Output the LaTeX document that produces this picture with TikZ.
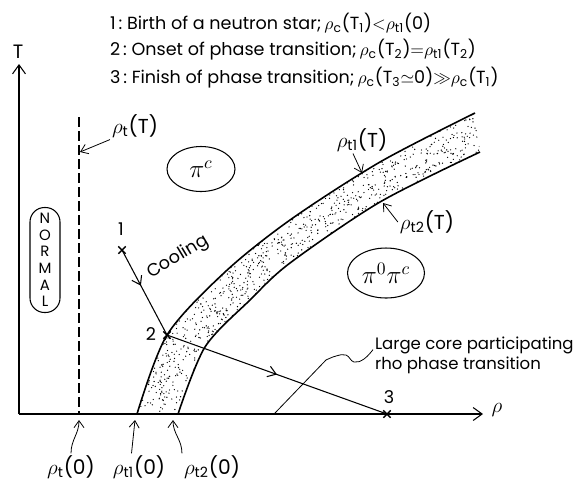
\documentclass[tikz,border=0pt]{standalone}
\usepackage{fontspec}
\setmainfont{Poppins}
\usetikzlibrary{positioning,arrows.meta,calc,shapes.geometric,shapes.misc,decorations.markings}
\newcommand{\rhs}[1]{\ensuremath{\rho_{\mathrm{#1}}}}
\tikzset{
  phLine/.style={line width=0.6pt, draw=black},
  phAxis/.style={-{Straight Barb[length=1.8mm,width=2.6mm]}, line width=0.6pt},
  phArr/.style={-{Straight Barb[length=1.4mm,width=2mm]}, line width=0.45pt},
  phBand/.style={line width=0.9pt},
  phOval/.style={ellipse, draw, line width=0.6pt, inner sep=0pt},
  phCross/.style={cross out, draw, line width=0.8pt, minimum size=1.2mm, inner sep=0pt},
  midArrow/.style={postaction={decorate}, decoration={markings,
    mark=at position #1 with {\arrow{Straight Barb[length=1.6mm,width=2.2mm]}}}},
  lbl/.style={font=\fontsize{10}{12}\selectfont, inner sep=1pt},
  rlbl/.style={font=\fontsize{11.5}{13}\selectfont, inner sep=1pt},
}

\begin{document}
\begin{tikzpicture}[x=0.2mm, y=-0.2mm]
  \useasboundingbox (0,0) rectangle (581,482);

  % stippled band
  \begin{scope}
    \clip plot[smooth] coordinates {(137,414) (167,335) (225,272) (290,220) (380,162) (475,113)}
      -- plot[smooth] coordinates {(480,152) (380,202) (290,263) (250,300) (205,347) (178,414)} -- cycle;
    \pgfmathsetseed{11}
    \foreach \k in {1,...,5200}{\fill ({130+355*rnd},{108+310*rnd}) circle (0.38pt);}
  \end{scope}
  \draw[phBand] plot[smooth] coordinates {(137,414) (167,335) (225,272) (290,220) (380,162) (475,113)};
  \draw[phBand] plot[smooth] coordinates {(178,414) (205,347) (250,300) (290,263) (380,202) (480,152)};

  % axes
  \coordinate (orig) at (19,414);
  \coordinate (tTop) at (19,64);
  \coordinate (rEnd) at (483,414);
  \coordinate (thickA) at (122,414);
  \draw[phAxis] (orig) -- (tTop);
  \draw[phAxis] (orig) -- (rEnd);
  \node[lbl, font=\fontsize{11}{12}\selectfont] (tLbl) at (18,52) {T};
  \node[rlbl, font=\large] (rLbl) at (497,410) {$\rho$};

  % header
  \node[lbl, anchor=west] (hdrA) at (108,23) {1\,:\ Birth of a neutron star;\,\rhs{c}(T\textsubscript{1})$<$\rhs{t1}(0)};
  \node[lbl, anchor=west] (hdrB) at (108,50) {2\,:\ Onset of phase transition;\,\rhs{c}(T\textsubscript{2})$=$\rhs{t1}(T\textsubscript{2})};
  \node[lbl, anchor=west] (hdrC) at (108,78) {3\,:\ Finish of phase transition;\,\rhs{c}(T\textsubscript{3}$\simeq$0)$\gg$\rhs{c}(T\textsubscript{1})};

  % normal phase boundary
  \coordinate (dTop) at (79,117);
  \coordinate (dBot) at (79,414);
  \draw[line width=0.7pt, dash pattern=on 2mm off 0.8mm] (dTop) -- (dBot);
  \node[rlbl] (rtT) at (135,126) {\rhs{t}(T)};
  \coordinate (rtTtip) at (80,152);
  \draw[phArr] (rtT.south west) -- (rtTtip);
  \node[draw, line width=0.6pt, rounded corners=2.9mm, minimum width=6mm, minimum height=21mm,
    inner sep=0pt, align=center, font=\fontsize{8.5}{9.4}\selectfont] (normal) at (45,260) {N\\O\\R\\M\\A\\L};

  % phases
  \node[phOval, minimum width=13.6mm, minimum height=9mm] (piC) at (201,169) {\Large$\pi^{c}$};
  \node[phOval, minimum width=15.4mm, minimum height=10mm] (piOC) at (386,273) {\Large$\pi^{0}\pi^{c}$};
  \node[rlbl] (rt1T) at (362,140) {\rhs{t1}(T)};
  \coordinate (rt1Ttip) at (362,173);
  \draw[phArr] ([xshift=-1.8mm]rt1T.south) -- (rt1Ttip);
  \node[rlbl] (rt2T) at (427,222) {\rhs{t2}(T)};
  \coordinate (rt2Ttip) at (383,203);
  \draw[phArr] (rt2T.west) -- (rt2Ttip);

  % cooling path
  \node[phCross] (pt1) at (122,250) {};
  \node[phCross] (pt2) at (167,335) {};
  \node[phCross] (pt3) at (387,414) {};
  \node[lbl] (n1) at (121,229) {1};
  \node[lbl] (n2) at (151,334) {2};
  \node[lbl] (n3) at (389,397) {3};
  \draw[line width=1.6pt] (thickA) -- (pt3.center);
  \draw[phLine, midArrow=0.42] (pt1.center) -- (pt2.center);
  \node[lbl, rotate=31] (cool) at (178,257) {Cooling};
  \draw[phLine, midArrow=0.5] (pt2.center) -- (pt3.center);

  % large core note
  \node[lbl, anchor=north west, align=left, font=\fontsize{9.4}{11.5}\selectfont] (core) at (373,335) {Large core participating\\rho phase transition};
  \coordinate (coreTip) at (275,413);
  \draw[line width=0.45pt] plot[smooth, tension=0.7] coordinates {([yshift=1.2mm]core.west) (364,359) (354,362) (346,355) (336,356) (326,360)} -- (coreTip);

  % zero temperature densities
  \node[rlbl] (rt0) at (71,467) {\rhs{t}(0)};
  \node[rlbl] (rt10) at (139,467) {\rhs{t1}(0)};
  \node[rlbl] (rt20) at (212,467) {\rhs{t2}(0)};
  \coordinate (rt0tip) at (79,420);
  \coordinate (rt10tip) at (135,420);
  \coordinate (rt20tip) at (173,420);
  \draw[phArr] (rt0.north) .. controls +(0,-14) and +(0,14) .. (rt0tip);
  \draw[phArr] ([xshift=-1.5mm]rt10.north) -- (rt10tip);
  \draw[phArr] (rt20.north west) .. controls +(0,-14) and +(0,14) .. (rt20tip);
\end{tikzpicture}
\end{document}
